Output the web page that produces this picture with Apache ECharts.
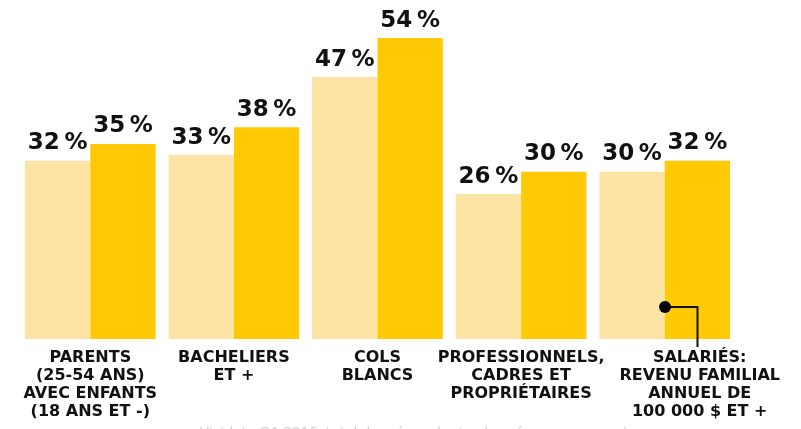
<!DOCTYPE html>
<html>
<head>
<meta charset="utf-8">
<script src="https://cdn.jsdelivr.net/npm/echarts@6/dist/echarts.min.js"></script>
<style>
  html, body { margin: 0; padding: 0; background: #fff; }
  #chart { width: 801px; height: 429px; }
</style>
</head>
<body>
<div id="chart"></div>
<script>
// categories (labels as printed under the bars)
var categories = [
  'PARENTS\n(25-54 ANS)\nAVEC ENFANTS\n(18 ANS ET -)',
  'BACHELIERS\nET +',
  'COLS\nBLANCS',
  'PROFESSIONNELS,\nCADRES ET\nPROPRIÉTAIRES',
  'SALARIÉS:\nREVENU FAMILIAL\nANNUEL DE\n100 000 $ ET +'
]
// pale bars / strong bars, in %
var serieA = [32, 33, 47, 26, 30]
var serieB = [35, 38, 54, 30, 32]

var chart = echarts.init(document.getElementById('chart'))

var labelCfg = {
  show: true,
  position: 'top',
  distance: 6,
  formatter: function (p) { return p.value + '\u202F%' },
  color: '#111',
  fontFamily: 'DejaVu Sans',
  fontWeight: 'bold',
  fontSize: 23
}

chart.setOption({
  animation: false,
  grid: { left: 18.5, right: 64.5, top: 4.6, bottom: 90 },
  xAxis: {
    type: 'category',
    data: categories.map(function (c, i) {
      // dernier libellé décalé vers la droite, comme dans l'original
      if (i === 4) return { value: c, textStyle: { padding: [0, 0, 0, 70] } }
      return c
    }),
    axisLine: { show: false },
    axisTick: { show: false },
    axisLabel: {
      interval: 0,
      margin: 10,
      color: '#111',
      fontFamily: 'DejaVu Sans',
      fontWeight: 'bold',
      fontSize: 16,
      lineHeight: 18
    }
  },
  yAxis: {
    type: 'value',
    min: 0,
    max: 60,
    show: false,
    splitLine: { show: false }
  },
  series: [
    {
      name: 'A',
      type: 'bar',
      data: serieA,
      barGap: '0%',
      barCategoryGap: '9%',
      itemStyle: { color: '#FDE4A5' },
      label: labelCfg
    },
    {
      name: 'B',
      type: 'bar',
      data: serieB,
      itemStyle: { color: '#FFCA05' },
      label: labelCfg
    }
  ],
  graphic: [
    { type: 'polyline', shape: { points: [[665, 307], [697.5, 307], [697.5, 347]] },
      style: { stroke: '#111', lineWidth: 2, fill: null }, z: 10 },
    { type: 'circle', shape: { cx: 665, cy: 307, r: 6 }, style: { fill: '#000' }, z: 11 },
    { type: 'text', left: 200, top: 425,
      style: { text: 'Vividata Q1 2016, total des répondants, données en pourcentage',
        fill: '#d0d0d0', fontSize: 15, fontFamily: 'Open Sans' } }
  ]
})
</script>
</body>
</html>
